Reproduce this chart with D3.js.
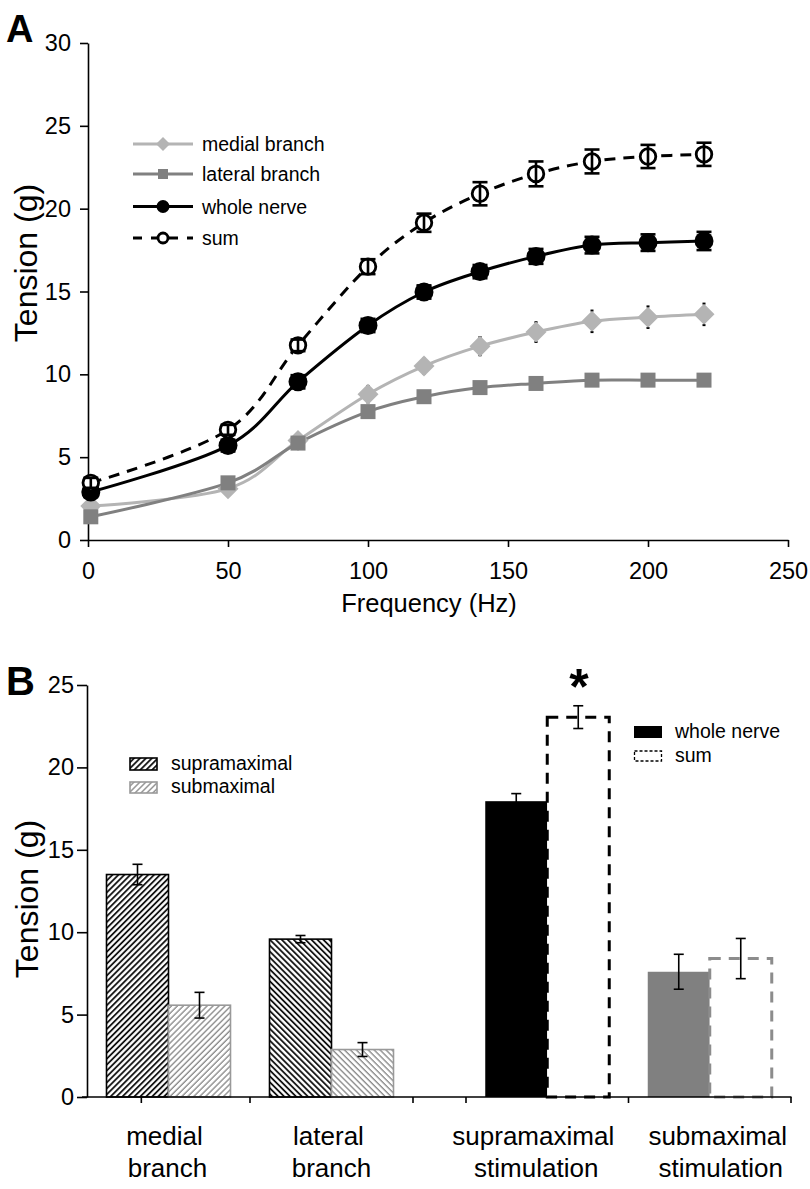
<!DOCTYPE html>
<html><head><meta charset="utf-8">
<script src="https://cdn.jsdelivr.net/npm/d3@7"></script>
<style>
body{margin:0;background:#fff}
svg{display:block}
text{font-family:"Liberation Sans",Arial,Helvetica,sans-serif;fill:#000}
</style>
</head><body><div id="chart"></div>
<script>
// ---------- Panel A data ----------
const frequencies = [1, 50, 75, 100, 120, 140, 160, 180, 200, 220];
const medialBranch = [2.05, 3.1, 6.0, 8.8, 10.5, 11.7, 12.55, 13.2, 13.45, 13.62];
const medialBranchErr = [0.2, 0.3, 0.4, 0.5, 0.45, 0.55, 0.6, 0.65, 0.65, 0.65];
const lateralBranch = [1.4, 3.45, 5.85, 7.75, 8.65, 9.2, 9.45, 9.65, 9.65, 9.65];
const lateralBranchErr = [0.2, 0.2, 0.25, 0.3, 0.3, 0.3, 0.3, 0.3, 0.3, 0.3];
const wholeNerve = [2.9, 5.7, 9.55, 12.95, 14.97, 16.2, 17.12, 17.8, 17.95, 18.05];
const wholeNerveErr = [0.3, 0.35, 0.4, 0.4, 0.4, 0.4, 0.45, 0.5, 0.5, 0.55];
const sumSeries = [3.45, 6.65, 11.75, 16.5, 19.15, 20.9, 22.1, 22.85, 23.15, 23.28];
const sumSeriesErr = [0.3, 0.3, 0.35, 0.45, 0.55, 0.7, 0.75, 0.72, 0.7, 0.7];
const xTicksA = [0, 50, 100, 150, 200, 250];
const yTicksA = [0, 5, 10, 15, 20, 25, 30];

// ---------- Panel B data ----------
const branchCategories = ["medial branch", "lateral branch"];
const branchSupra = [13.5, 9.58];
const branchSupraErr = [0.62, 0.22];
const branchSub = [5.57, 2.88];
const branchSubErr = [0.78, 0.42];
const stimCategories = ["supramaximal stimulation", "submaximal stimulation"];
const stimWhole = [17.95, 7.6];
const stimWholeErr = [0.46, 1.06];
const stimSum = [23.05, 8.4];
const stimSumErr = [0.69, 1.22];
const yTicksB = [0, 5, 10, 15, 20, 25];

const FONT = '"Liberation Sans",Arial,Helvetica,sans-serif';
const LIGHT = "#b4b4b4", MID = "#808080";

const svg = d3.select("#chart").append("svg").attr("width", 810).attr("height", 1189);
svg.append("rect").attr("width", 810).attr("height", 1189).attr("fill", "#fff");
const defs = svg.append("defs");
function hatch(id, color, angle, w) {
  const s = 4.2;
  const p = defs.append("pattern").attr("id", id).attr("patternUnits", "userSpaceOnUse")
    .attr("width", s).attr("height", s).attr("patternTransform", `rotate(${angle})`);
  p.append("rect").attr("width", s).attr("height", s).attr("fill", "#fff");
  p.append("line").attr("x1", 1).attr("x2", 1).attr("y1", -1).attr("y2", s + 1)
    .attr("stroke", color).attr("stroke-width", w);
}
hatch("hbF", "#000", 45, 1.7);
hatch("hbB", "#000", -45, 1.7);
hatch("hgF", "#8c8c8c", 45, 1.4);
hatch("hgB", "#8c8c8c", -45, 1.4);

function styleAxis(g, fs) {
  g.attr("font-family", FONT).attr("font-size", fs);
  g.selectAll("path,line").attr("stroke", "#000").attr("stroke-width", 1.6);
  g.selectAll("text").attr("fill", "#000");
}

// =============== PANEL A ===============
const xA = d3.scaleLinear().domain([0, 250]).range([88, 788]);
const yA = d3.scaleLinear().domain([0, 30]).range([540, 43]);
const gA = svg.append("g");

styleAxis(gA.append("g").attr("transform", "translate(88,0)")
  .call(d3.axisLeft(yA).tickValues(yTicksA).tickSize(8).tickSizeOuter(0).tickPadding(9)), 23.5);
styleAxis(gA.append("g").attr("transform", "translate(0,540)")
  .call(d3.axisBottom(xA).tickValues(xTicksA).tickSize(7).tickSizeOuter(0).tickPadding(15)), 23.5);

gA.append("text").attr("x", 6).attr("y", 42).attr("font-size", 38).attr("font-weight", "bold").text("A");
gA.append("text").attr("transform", "translate(37,263) rotate(-90)").attr("text-anchor", "middle")
  .attr("font-size", 32).text("Tension (g)");
gA.append("text").attr("x", 429).attr("y", 612).attr("text-anchor", "middle")
  .attr("font-size", 25.5).text("Frequency (Hz)");

const seriesA = [
  { name: "medial branch", vals: medialBranch, errs: medialBranchErr, color: LIGHT, marker: "diamond", dash: null },
  { name: "lateral branch", vals: lateralBranch, errs: lateralBranchErr, color: MID, marker: "square", dash: null },
  { name: "whole nerve", vals: wholeNerve, errs: wholeNerveErr, color: "#000", marker: "circle", dash: null },
  { name: "sum", vals: sumSeries, errs: sumSeriesErr, color: "#000", marker: "open", dash: "11,8" }
];

const lineGen = d3.line().x(d => xA(d.f)).y(d => yA(d.v)).curve(d3.curveCardinal.tension(0));
seriesA.forEach(s => {
  const pts = s.vals.map((v, i) => ({ f: frequencies[i], v }));
  gA.append("path").attr("d", lineGen(pts)).attr("fill", "none").attr("stroke", s.color)
    .attr("stroke-width", 3).attr("stroke-dasharray", s.dash);
});

function marker(g, type, cx, cy, size, color) {
  if (type === "diamond") {
    g.append("path").attr("d", `M${cx},${cy - size}L${cx + size},${cy}L${cx},${cy + size}L${cx - size},${cy}Z`).attr("fill", color);
  } else if (type === "square") {
    g.append("rect").attr("x", cx - size).attr("y", cy - size).attr("width", size * 2).attr("height", size * 2).attr("fill", color);
  } else if (type === "circle") {
    g.append("circle").attr("cx", cx).attr("cy", cy).attr("r", size).attr("fill", color);
  } else {
    g.append("circle").attr("cx", cx).attr("cy", cy).attr("r", size).attr("fill", "#fff")
      .attr("stroke", color).attr("stroke-width", 2.8);
  }
}
function errBarA(g, s, cap, w) {
  s.vals.forEach((v, i) => {
    const x = xA(frequencies[i]), y1 = yA(v + s.errs[i]), y2 = yA(v - s.errs[i]);
    g.append("line").attr("x1", x).attr("x2", x).attr("y1", y1).attr("y2", y2).attr("stroke", "#000").attr("stroke-width", w);
    [y1, y2].forEach(y => g.append("line").attr("x1", x - cap / 2).attr("x2", x + cap / 2)
      .attr("y1", y).attr("y2", y).attr("stroke", "#000").attr("stroke-width", w));
  });
}
const sizes = { diamond: 10.5, square: 7.5, circle: 9.5, open: 7.8 };
// branches: error bars behind markers
[seriesA[0], seriesA[1]].forEach(s => {
  errBarA(gA, s, 3, 2);
  s.vals.forEach((v, i) => marker(gA, s.marker, xA(frequencies[i]), yA(v), sizes[s.marker], s.color));
});
// whole nerve and sum: markers then error bars on top
[seriesA[2], seriesA[3]].forEach(s => {
  s.vals.forEach((v, i) => marker(gA, s.marker, xA(frequencies[i]), yA(v), sizes[s.marker], s.color));
  errBarA(gA, s, 15, 2.6);
});

// legend A
const legA = gA.append("g");
const legRowsA = [144, 174, 206.5, 238];
const legSizes = { diamond: 7, square: 5, circle: 6.5, open: 5 };
seriesA.forEach((s, i) => {
  const y = legRowsA[i];
  legA.append("line").attr("x1", 133).attr("x2", 193).attr("y1", y).attr("y2", y)
    .attr("stroke", s.color).attr("stroke-width", 3).attr("stroke-dasharray", s.dash ? "9,9" : null);
  marker(legA, s.marker, 163, y, legSizes[s.marker], s.color);
  legA.append("text").attr("x", 202).attr("y", y + 7).attr("font-size", 19.5).text(s.name);
});

// =============== PANEL B ===============
const gB = svg.append("g");
const yB = d3.scaleLinear().domain([0, 25]).range([1097, 685]);
const xL = d3.scaleBand().domain(branchCategories).range([87, 413]);
const xR = d3.scaleBand().domain(stimCategories).range([466, 791]);
const inner = d3.scaleBand().domain(["first", "second"]).range([-62, 62]);

function errBarB(g, x, v, e) {
  const y1 = yB(v + e), y2 = yB(v - e);
  g.append("line").attr("x1", x).attr("x2", x).attr("y1", y1).attr("y2", y2).attr("stroke", "#000").attr("stroke-width", 1.6);
  [y1, y2].forEach(y => g.append("line").attr("x1", x - 5).attr("x2", x + 5).attr("y1", y).attr("y2", y)
    .attr("stroke", "#000").attr("stroke-width", 1.6));
}

// branch bars
branchCategories.forEach((c, i) => {
  const cx = xL(c) + xL.bandwidth() / 2;
  const xs = cx + inner("first"), xb = cx + inner("second"), bw = inner.bandwidth();
  gB.append("rect").attr("x", xs).attr("y", yB(branchSupra[i])).attr("width", bw)
    .attr("height", yB(0) - yB(branchSupra[i])).attr("fill", i === 0 ? "url(#hbF)" : "url(#hbB)")
    .attr("stroke", "#000").attr("stroke-width", 1.6);
  gB.append("rect").attr("x", xb).attr("y", yB(branchSub[i])).attr("width", bw)
    .attr("height", yB(0) - yB(branchSub[i])).attr("fill", i === 0 ? "url(#hgF)" : "url(#hgB)")
    .attr("stroke", "#999").attr("stroke-width", 1.6);
  errBarB(gB, xs + bw / 2, branchSupra[i], branchSupraErr[i]);
  errBarB(gB, xb + bw / 2, branchSub[i], branchSubErr[i]);
});

// stimulation bars
stimCategories.forEach((c, i) => {
  const cx = xR(c) + xR.bandwidth() / 2;
  const xs = cx + inner("first"), xb = cx + inner("second"), bw = inner.bandwidth();
  const fillC = i === 0 ? "#000" : MID;
  const dashC = i === 0 ? "#000" : "#8c8c8c";
  gB.append("rect").attr("x", xs).attr("y", yB(stimWhole[i])).attr("width", bw)
    .attr("height", yB(0) - yB(stimWhole[i])).attr("fill", fillC);
  gB.append("rect").attr("x", xb).attr("y", yB(stimSum[i])).attr("width", bw)
    .attr("height", yB(0) - yB(stimSum[i])).attr("fill", "#fff")
    .attr("stroke", dashC).attr("stroke-width", 3).attr("stroke-dasharray", "11,8");
  errBarB(gB, xs + bw / 2, stimWhole[i], stimWholeErr[i]);
  errBarB(gB, xb + bw / 2, stimSum[i], stimSumErr[i]);
});

// axes B
styleAxis(gB.append("g").attr("transform", "translate(87,0)")
  .call(d3.axisLeft(yB).tickValues(yTicksB).tickSize(10).tickSizeOuter(0).tickPadding(3)), 23.5);
gB.append("line").attr("x1", 82).attr("x2", 791.5).attr("y1", yB(0)).attr("y2", yB(0))
  .attr("stroke", "#000").attr("stroke-width", 1.6);
const tickXs = [xL.range()[0] + xL.bandwidth() / 3, xL(branchCategories[1]), xL.range()[1],
  xR.range()[0], xR(stimCategories[1]), xR.range()[1]];
tickXs.forEach(x => gB.append("line").attr("x1", x).attr("x2", x).attr("y1", yB(0)).attr("y2", yB(0) + 6)
  .attr("stroke", "#000").attr("stroke-width", 1.6));

// category labels
const labelShift = [-4, -3, -14, 8];
const allCats = branchCategories.map(c => [c, xL(c) + xL.bandwidth() / 2])
  .concat(stimCategories.map(c => [c, xR(c) + xR.bandwidth() / 2]));
allCats.forEach(([c, cx], i) => {
  const words = c.split(" ");
  const t = gB.append("text").attr("text-anchor", "middle").attr("font-size", 26);
  t.append("tspan").attr("x", cx + labelShift[i]).attr("y", 1145).text(words[0]);
  t.append("tspan").attr("x", cx + labelShift[i] + 3).attr("y", 1177).text(words[1]);
});

gB.append("text").attr("x", 6).attr("y", 695).attr("font-size", 40).attr("font-weight", "bold").text("B");
gB.append("text").attr("transform", "translate(38,899) rotate(-90)").attr("text-anchor", "middle")
  .attr("font-size", 32).text("Tension (g)");
gB.append("text").attr("x", 579).attr("y", 704).attr("text-anchor", "middle")
  .attr("font-size", 50).attr("font-weight", "bold").text("*");

// legend B left
const legBL = gB.append("g");
legBL.append("rect").attr("x", 130).attr("y", 758).attr("width", 27).attr("height", 12)
  .attr("fill", "url(#hbF)").attr("stroke", "#000").attr("stroke-width", 1.6);
legBL.append("text").attr("x", 171).attr("y", 770).attr("font-size", 19.5).text("supramaximal");
legBL.append("rect").attr("x", 130).attr("y", 782).attr("width", 27).attr("height", 11)
  .attr("fill", "url(#hgF)").attr("stroke", "#999").attr("stroke-width", 1.6);
legBL.append("text").attr("x", 171).attr("y", 793).attr("font-size", 19.5).text("submaximal");

// legend B right
const legBR = gB.append("g");
legBR.append("rect").attr("x", 634).attr("y", 726).attr("width", 28).attr("height", 12).attr("fill", "#000");
legBR.append("text").attr("x", 675).attr("y", 738).attr("font-size", 19.5).text("whole nerve");
legBR.append("rect").attr("x", 634.5).attr("y", 751).attr("width", 27).attr("height", 10)
  .attr("fill", "#fff").attr("stroke", "#000").attr("stroke-width", 1.3).attr("stroke-dasharray", "3,2");
legBR.append("text").attr("x", 675).attr("y", 762).attr("font-size", 19.5).text("sum");
</script>
</body></html>
